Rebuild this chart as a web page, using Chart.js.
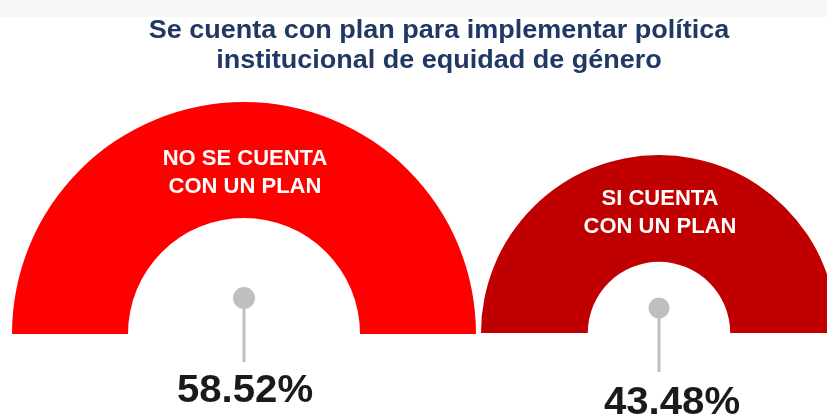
<!DOCTYPE html>
<html><head><meta charset="utf-8">
<script src="https://cdn.jsdelivr.net/npm/chart.js@4"></script>
<style>
html,body{margin:0;padding:0;background:#fff;width:827px;height:414px;overflow:hidden}
#wrap{position:relative;width:827px;height:414px}
canvas{position:absolute;left:0;top:0}
</style></head><body>
<div id="wrap"><canvas id="c1" width="827" height="414"></canvas><canvas id="c2" width="827" height="414"></canvas></div>
<script>
const titleLines = ['Se cuenta con plan para implementar política', 'institucional de equidad de género'];
const categories = ['NO SE CUENTA CON UN PLAN', 'SI CUENTA CON UN PLAN'];
const categoryLines = [['NO SE CUENTA', 'CON UN PLAN'], ['SI CUENTA', 'CON UN PLAN']];
const percentages = [58.52, 43.48];
const colors = ['#ff0000', '#c00000'];

const FONT = '"Liberation Sans", Arial, sans-serif';
const layouts = [
  {padding:{left:0,right:339,top:22,bottom:0}, radius:232, cutout:'50%', pinDy:-36, pinR:11, stemDy:28, valDx:1, valDy:68},
  {padding:{left:491,right:0,top:74,bottom:0}, radius:178, cutout:'40%', pinDy:-25, pinR:10.5, stemDy:39, valDx:13, valDy:81}
];

function stretchText(ctx, text, x, y, sx) {
  ctx.save();
  ctx.translate(x, y);
  ctx.scale(sx, 1);
  ctx.fillText(text, 0, 0);
  ctx.restore();
}

function makeChart(id, i, drawTitle) {
  const L = layouts[i];
  const labelPlugin = {
    id: 'labels' + i,
    beforeDraw(chart) {
      if (!drawTitle) return;
      const ctx = chart.ctx;
      ctx.save();
      ctx.fillStyle = '#f8f8f8';
      ctx.fillRect(0, 0, 827, 17);
      ctx.restore();
    },
    afterDatasetsDraw(chart) {
      const ctx = chart.ctx;
      const arc = chart.getDatasetMeta(0).data[0];
      const cx = arc.x, cy = arc.y, R = arc.outerRadius;
      ctx.save();
      // segment label
      ctx.fillStyle = '#ffffff';
      ctx.font = 'bold 22px ' + FONT;
      ctx.textAlign = 'center';
      ctx.textBaseline = 'middle';
      categoryLines[i].forEach((t, k) => ctx.fillText(t, cx + 1, cy - 0.755 * R + k * 28));
      // pin
      ctx.strokeStyle = '#bfbfbf';
      ctx.lineWidth = 3;
      ctx.beginPath();
      ctx.moveTo(cx, cy + L.pinDy);
      ctx.lineTo(cx, cy + L.stemDy);
      ctx.stroke();
      ctx.fillStyle = '#bfbfbf';
      ctx.beginPath();
      ctx.arc(cx, cy + L.pinDy, L.pinR, 0, Math.PI * 2);
      ctx.fill();
      // value
      ctx.fillStyle = '#1a1a1a';
      ctx.font = 'bold 39px ' + FONT;
      ctx.textBaseline = 'alphabetic';
      stretchText(ctx, percentages[i].toFixed(2) + '%', cx + L.valDx, cy + L.valDy, 1.03);
      if (drawTitle) {
        ctx.fillStyle = '#203864';
        ctx.font = 'bold 25px ' + FONT;
        stretchText(ctx, titleLines[0], 439, 38, 1.08);
        stretchText(ctx, titleLines[1], 439, 68, 1.08);
      }
      ctx.restore();
    }
  };
  return new Chart(document.getElementById(id), {
    type: 'doughnut',
    data: {
      labels: [categories[i]],
      datasets: [{data: [percentages[i]], backgroundColor: [colors[i]], borderWidth: 0, clip: false}]
    },
    options: {
      responsive: false,
      animation: false,
      rotation: -90,
      circumference: 180,
      radius: L.radius,
      cutout: L.cutout,
      layout: {padding: L.padding},
      plugins: {legend: {display: false}, tooltip: {enabled: false}, title: {display: false}}
    },
    plugins: [labelPlugin]
  });
}
makeChart('c1', 0, true);
makeChart('c2', 1, false);
</script>
</body></html>
